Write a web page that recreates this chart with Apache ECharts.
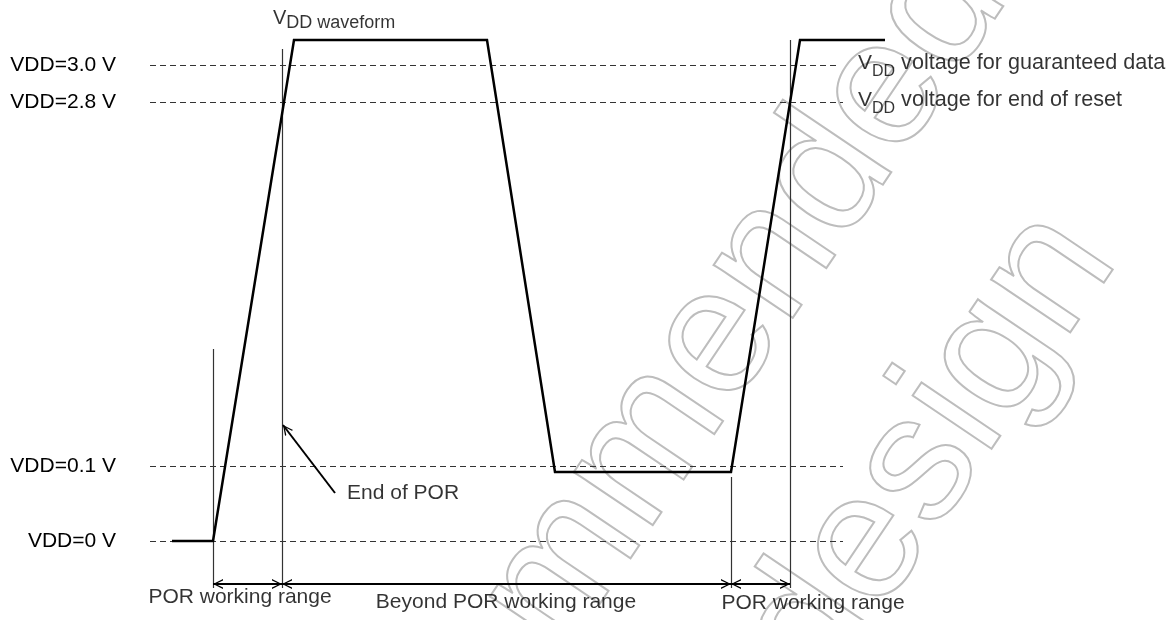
<!DOCTYPE html>
<html>
<head>
<meta charset="utf-8">
<script src="https://cdn.jsdelivr.net/npm/echarts@6/dist/echarts.min.js"></script>
<style>
html, body { margin: 0; padding: 0; background: #fff; }
#chart { width: 1175px; height: 620px; }
</style>
</head>
<body>
<div id="chart"></div>
<script>
// diagram units: x = time (arbitrary), y = schematic level (0 = VDD 0 V)
const levelNames = ['VDD=3.0 V', 'VDD=2.8 V', 'VDD=0.1 V', 'VDD=0 V'];
const levelPos = [476, 439, 75, 0];
const levelEnd = [688, 695, 695, 695];
const levelNotes = [' voltage for guaranteed data', ' voltage for end of reset', null, null];

// VDD waveform
const waveTime = [24, 65, 146, 339, 407, 583, 652, 737];
const waveLevel = [0, 0, 501, 501, 69, 69, 501, 501];

// vertical boundaries
const markerTime = [65, 134, 583, 642];
const markerTop = [192, 492, 64, 501];
const markerBottom = -47;

// working ranges
const rangeNames = ['POR working range', 'Beyond POR working range', 'POR working range'];
const rangeStart = [65, 134, 583];
const rangeEnd = [134, 583, 642];
const rangeArrowY = -43;
const rangeLabelAt = [[92, -56], [358, -61], [665, -62]];

// "End of POR" pointer
const porPointer = [[187, 48], [135, 116]];
const porLabelAt = [199, 48];

const FONT = '"Liberation Sans", Arial, sans-serif';
// open arrow head, tip sits at the symbol centre
const chevron = 'path://M5,0 L5.01,0 Z M0,20 L5,10 L10,20 L8.5,20 L5,12.6 L1.5,20 Z';

var chart = echarts.init(document.getElementById('chart'));

let levelLines = levelPos.map((v, i) => [
    { coord: [2, v], name: levelNames[i] },
    { coord: [levelEnd[i], v] }
]);

let markerLines = markerTime.map((t, i) => [
    { coord: [t, markerTop[i]] },
    { coord: [t, markerBottom] }
]);

let rangeLines = rangeStart.map((s, i) => [
    { coord: [s, rangeArrowY] },
    { coord: [rangeEnd[i], rangeArrowY] }
]);

let textData = [];
rangeNames.forEach((n, i) => {
    textData.push({ value: rangeLabelAt[i], name: n, label: { position: 'inside' } });
});
textData.push({ value: porLabelAt, name: 'End of POR', label: { position: 'right', distance: 0 } });

let noteData = [];
levelNotes.forEach((n, i) => {
    if (!n) return;
    noteData.push({ value: [710, levelPos[i] - 1], name: n });
});

var subRich = {
    v: { fontSize: 21, fontFamily: FONT, color: '#000', padding: [0, 0, 6, 0], verticalAlign: 'bottom' },
    s: { fontSize: 16, fontFamily: FONT, color: '#000', verticalAlign: 'bottom' },
    t: { fontSize: 21.6, fontFamily: FONT, color: '#000', padding: [0, 0, 6, 0], verticalAlign: 'bottom' },
    v2: { fontSize: 20, fontFamily: FONT, color: '#000', padding: [0, 0, 4, 0], verticalAlign: 'bottom' },
    s2: { fontSize: 18, fontFamily: FONT, color: '#000', verticalAlign: 'bottom' }
};

var option = {
    animation: false,
    backgroundColor: '#fff',
    grid: { left: 0, right: 0, top: 0, bottom: 0 },
    xAxis: { type: 'value', min: -148, max: 1027, show: false },
    yAxis: { type: 'value', min: -79, max: 541, show: false },
    graphic: [{
        type: 'group',
        x: 712, y: 297,
        rotation: 0.977,
        silent: true,
        z: -10,
        children: [{
            type: 'text', x: -1065, y: 29,
            style: { text: 'Not recommended', font: '180px ' + FONT, fill: 'rgba(0,0,0,0)', stroke: '#bdbdbd', lineWidth: 2, align: 'left', verticalAlign: 'middle' }
        }, {
            type: 'text', x: -912, y: 267,
            style: { text: 'for new design', font: '180px ' + FONT, fill: 'rgba(0,0,0,0)', stroke: '#bdbdbd', lineWidth: 2, align: 'left', verticalAlign: 'middle' }
        }]
    }, {
        type: 'rect',
        shape: { x: 140, y: 607, width: 200, height: 13 },
        style: { fill: '#fff' },
        z: 100,
        silent: true
    }],
    series: [{
        name: 'levels',
        type: 'line',
        data: [],
        markLine: {
            silent: true,
            symbol: ['none', 'none'],
            lineStyle: { type: [6, 4], color: '#333', width: 1.2 },
            label: {
                show: true, position: 'start', distance: 34, formatter: '{b}',
                fontSize: 21, fontFamily: FONT, color: '#000'
            },
            data: levelLines
        }
    }, {
        name: 'markers',
        type: 'line',
        data: [],
        markLine: {
            silent: true,
            symbol: ['none', 'none'],
            label: { show: false },
            lineStyle: { type: 'solid', color: '#333', width: 1.2 },
            data: markerLines
        }
    }, {
        name: 'ranges',
        type: 'line',
        data: [],
        markLine: {
            silent: true,
            symbol: [chevron, chevron],
            symbolSize: [10, 20],
            label: { show: false },
            lineStyle: { type: 'solid', color: '#000', width: 2 },
            data: rangeLines
        }
    }, {
        name: 'pointer',
        type: 'line',
        data: [],
        markLine: {
            silent: true,
            symbol: ['none', chevron],
            symbolSize: [10, 20],
            label: { show: false },
            lineStyle: { type: 'solid', color: '#000', width: 2 },
            data: [[{ coord: porPointer[0] }, { coord: porPointer[1] }]]
        }
    }, {
        name: 'VDD',
        type: 'line',
        data: waveTime.map((t, i) => [t, waveLevel[i]]),
        showSymbol: false,
        symbol: 'none',
        lineStyle: { color: '#000', width: 2.5, join: 'miter' },
        z: 5
    }, {
        name: 'texts',
        type: 'scatter',
        symbolSize: 0,
        data: textData,
        label: {
            show: true, formatter: '{b}',
            fontSize: 21, fontFamily: FONT, color: '#000'
        },
        z: 6
    }, {
        name: 'notes',
        type: 'scatter',
        symbolSize: 0,
        data: noteData,
        label: {
            show: true, position: 'right', distance: 0,
            formatter: p => '{v|V}{s|DD}{t|' + p.name + '}',
            rich: subRich
        },
        z: 6
    }, {
        name: 'title',
        type: 'scatter',
        symbolSize: 0,
        data: [{ value: [125, 521], name: ' waveform' }],
        label: {
            show: true, position: 'right', distance: 0,
            formatter: p => '{v2|V}{s2|DD' + p.name + '}',
            rich: subRich
        },
        z: 6
    }]
};

chart.setOption(option);
</script>
</body>
</html>
